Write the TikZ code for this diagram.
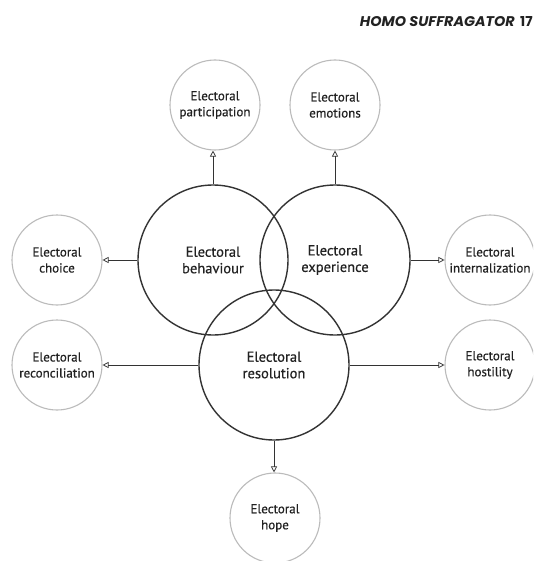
\documentclass[tikz,border=0pt]{standalone}
\usepackage{fontspec}
\usepackage{graphicx}
\setmainfont{PT Sans}
\newfontfamily\labelfont{PT Sans}[FakeBold=0.5]
\newfontfamily\headfont{Poppins}
\usetikzlibrary{arrows.meta}
\definecolor{ink}{HTML}{222222}
\definecolor{edge}{HTML}{333333}
\definecolor{light}{HTML}{BBBBBB}
\tikzset{
  big/.style={circle, draw=edge, line width=1.4pt, minimum size=150pt, inner sep=0pt, align=center, text=ink, font=\labelfont\fontsize{14.5}{16.5}\selectfont},
  small/.style={circle, draw=light, line width=1.1pt, minimum size=90pt, inner sep=0pt, align=center, text=ink, font=\labelfont\fontsize{13}{16}\selectfont},
  link/.style={draw=edge, line width=0.7pt, -{Triangle[open, length=6pt, width=6pt]}},
  header/.style={inner sep=0pt, text=ink}
}
\begin{document}
\begin{tikzpicture}[x=1pt, y=-1pt]
\clip (0,0) rectangle (533,561);
\fill[white] (0,0) rectangle (533,561);
\node[header, anchor=base east] (head) at (515,27) {\resizebox{155pt}{10pt}{\headfont\bfseries\itshape HOMO SUFFRAGATOR}};
\node[header, anchor=base west] (page) at (520,27) {\resizebox{!}{10pt}{\headfont\bfseries 17}};
\node[big] (beh) at (213,260) {Electoral\\behaviour};
\node[big] (exp) at (335,260) {Electoral\\experience};
\node[big] (res) at (274,365) {Electoral\\resolution};
\node[small] (par) at (215,105) {Electoral\\participation};
\node[small] (emo) at (335,105) {Electoral\\emotions};
\node[small] (cho) at (57,260) {Electoral\\choice};
\node[small] (int) at (490,260) {Electoral\\internalization};
\node[small] (rec) at (57,365) {Electoral\\reconciliation};
\node[small] (hos) at (490,365) {Electoral\\hostility};
\node[small] (hop) at (275,518) {Electoral\\hope};
\draw[link] (beh.north) -- (beh.north |- par.south);
\draw[link] (exp.north) -- (emo.south);
\draw[link] (beh.west) -- (cho.east);
\draw[link] (exp.east) -- (int.west);
\draw[link] (res.west) -- (rec.east);
\draw[link] (res.east) -- (hos.west);
\draw[link] (res.south) -- (res.south |- hop.north);
\end{tikzpicture}
\end{document}
